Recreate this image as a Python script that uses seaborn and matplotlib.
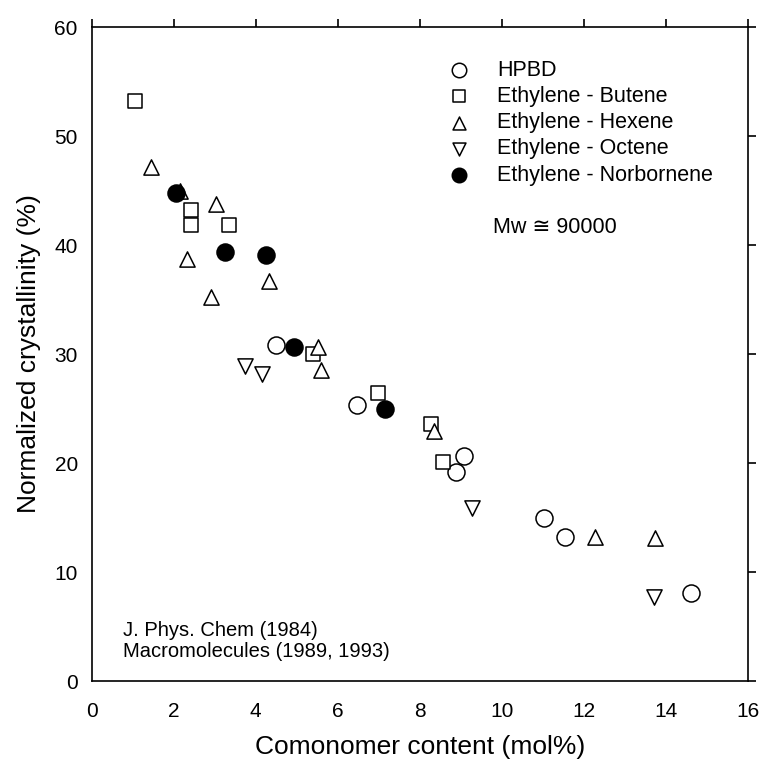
import matplotlib
matplotlib.use("Agg")
import matplotlib.pyplot as plt
import seaborn as sns
import pandas as pd

sns.set_style("white")
plt.rcParams['font.family'] = ['Liberation Sans', 'DejaVu Sans']
plt.rcParams['text.color'] = 'black'
plt.rcParams['axes.labelcolor'] = 'black'

hpbd_x = [4.49, 6.46, 9.07, 8.88, 11.02, 11.54, 14.6]
hpbd_y = [30.8, 25.3, 20.6, 19.2, 15.0, 13.2, 8.1]
butene_x = [1.05, 2.41, 2.41, 3.34, 5.39, 6.98, 8.27, 8.56]
butene_y = [53.2, 43.2, 41.8, 41.8, 30.0, 26.4, 23.6, 20.1]
hexene_x = [1.44, 2.15, 2.32, 3.02, 2.90, 4.32, 5.51, 5.59, 8.34, 12.27, 13.73]
hexene_y = [47.2, 45.0, 38.7, 43.8, 35.2, 36.7, 30.6, 28.5, 22.9, 13.2, 13.1]
octene_x = [3.73, 4.15, 9.27, 13.71]
octene_y = [28.9, 28.2, 15.9, 7.7]
norb_x = [2.05, 3.24, 4.24, 4.93, 7.15]
norb_y = [44.8, 39.4, 39.1, 30.6, 25.0]

series = [
    ("HPBD", hpbd_x, hpbd_y, "o", "white"),
    ("Ethylene - Butene", butene_x, butene_y, "s", "white"),
    ("Ethylene - Hexene", hexene_x, hexene_y, "^", "white"),
    ("Ethylene - Octene", octene_x, octene_y, "v", "white"),
    ("Ethylene - Norbornene", norb_x, norb_y, "o", "black"),
]

fig = plt.figure(figsize=(7.64, 7.73), dpi=100)
ax = fig.add_axes([0.120, 0.119, 0.859, 0.846])

for name, xs, ys, m, fc in series:
    df = pd.DataFrame({"x": xs, "y": ys})
    size = {"o": 150, "s": 110, "^": 120, "v": 120}[m]
    sns.scatterplot(data=df, x="x", y="y", ax=ax, marker=m, s=size,
                    facecolor=fc, edgecolor="black", linewidth=1.1,
                    label=name, zorder=3)

ax.set_xlim(0, 16)
ax.set_ylim(0, 60)
ax.set_xticks(range(0, 17, 2))
ax.set_yticks(range(0, 61, 10))
for s in ax.spines.values():
    s.set_color("black")
    s.set_linewidth(1.2)
ax.tick_params(axis="both", direction="out", length=6, width=1.2,
               labelsize=15, colors="black", top=True, right=True,
               labeltop=False, labelright=False)
ax.tick_params(axis="x", pad=9)
ax.tick_params(axis="y", pad=4)
ax.set_xlabel("Comonomer content (mol%)", fontsize=19, labelpad=10)
ax.set_ylabel("Normalized crystallinity (%)", fontsize=19, labelpad=10)

leg = ax.legend(loc="upper left", bbox_to_anchor=(0.50, 0.976), frameon=False,
                fontsize=15.5, handletextpad=0.8, labelspacing=0.24,
                markerscale=0.85, borderpad=0.3)

ax.text(0.612, 0.685, "Mw \u2245 90000", transform=ax.transAxes, fontsize=15.5,
        family=['Liberation Sans', 'DejaVu Sans'])
ax.text(0.047, 0.037, "J. Phys. Chem (1984)\nMacromolecules (1989, 1993)",
        transform=ax.transAxes, fontsize=14.5, linespacing=1.15)

fig.savefig("out.png", dpi=100)
